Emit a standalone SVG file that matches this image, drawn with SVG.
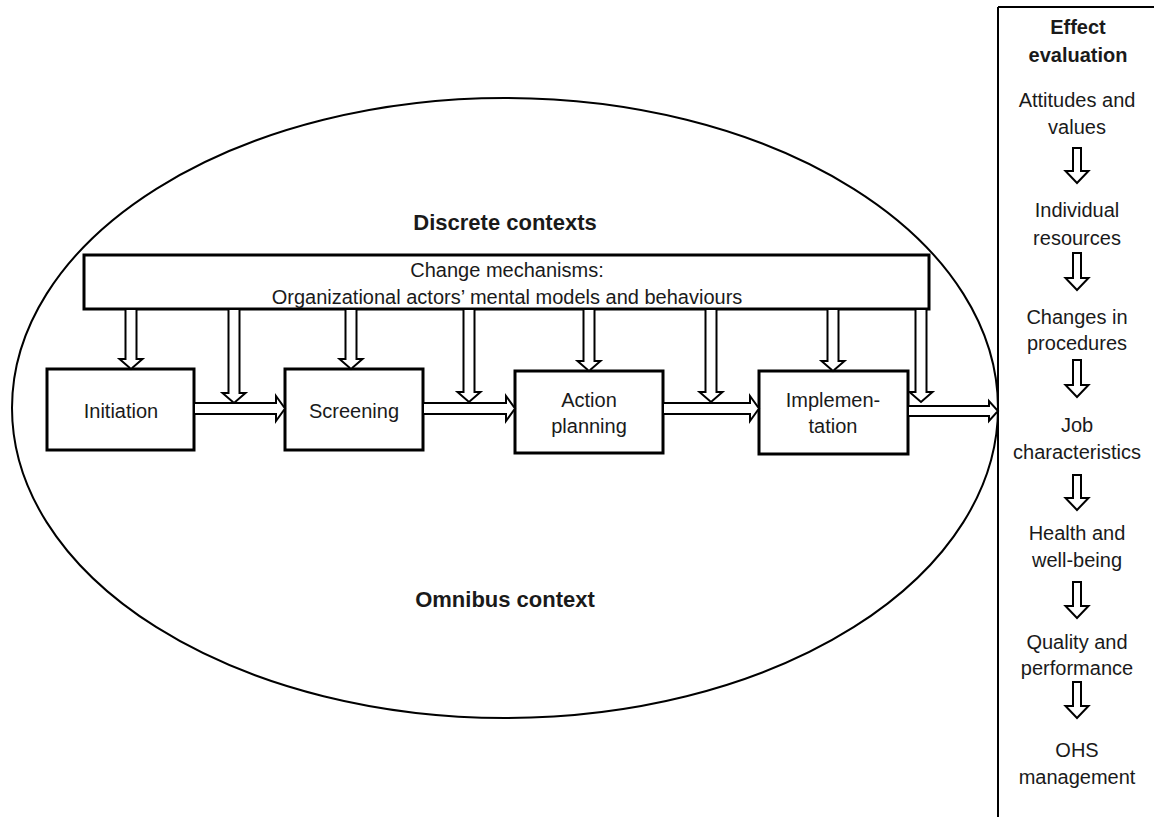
<svg xmlns="http://www.w3.org/2000/svg" width="1154" height="817" viewBox="0 0 1154 817">
<style>
text{font-family:"Liberation Sans",Arial,sans-serif;font-size:20px;fill:#1a1a1a;text-anchor:middle}
.b{font-weight:bold}
.t{font-size:22px}
.box{fill:#fff;stroke:#000;stroke-width:3}
.arr{fill:#fff;stroke:#000;stroke-width:2;stroke-linejoin:miter}
.ln{fill:none;stroke:#000;stroke-width:2}
</style>
<rect width="1154" height="817" fill="#fff"/>
<g id="omnibus">
<ellipse class="ln" cx="505" cy="408" rx="493" ry="310"/>
<text class="b t" x="505" y="230">Discrete contexts</text>
<text class="b t" x="505" y="607">Omnibus context</text>
</g>
<g id="change-mechanisms">
<rect class="box" x="84" y="255" width="845" height="54"/>
<text x="507" y="277">Change mechanisms:</text>
<text x="507" y="304">Organizational actors’ mental models and behaviours</text>
</g>
<g id="initiation">
<rect class="box" x="47" y="369" width="147" height="81"/>
<text x="121" y="418">Initiation</text>
</g>
<g id="screening">
<rect class="box" x="285" y="369" width="138" height="81"/>
<text x="354" y="418">Screening</text>
</g>
<g id="action-planning">
<rect class="box" x="515" y="371" width="148" height="82"/>
<text x="589" y="407">Action</text>
<text x="589" y="433">planning</text>
</g>
<g id="implementation">
<rect class="box" x="759" y="371" width="149" height="83"/>
<text x="833" y="407">Implemen-</text>
<text x="833" y="433">tation</text>
</g>
<g id="effect-evaluation">
<path class="ln" d="M998,7 H1154 M998,7 V817"/>
<text class="b" x="1078" y="34">Effect</text>
<text class="b" x="1078" y="62">evaluation</text>
<text x="1077" y="107">Attitudes and</text>
<text x="1077" y="134">values</text>
<text x="1077" y="217">Individual</text>
<text x="1077" y="245">resources</text>
<text x="1077" y="324">Changes in</text>
<text x="1077" y="350">procedures</text>
<text x="1077" y="432">Job</text>
<text x="1077" y="459">characteristics</text>
<text x="1077" y="540">Health and</text>
<text x="1077" y="567">well-being</text>
<text x="1077" y="649">Quality and</text>
<text x="1077" y="675">performance</text>
<text x="1077" y="757">OHS</text>
<text x="1077" y="784">management</text>
</g>
<g id="connectors">
<polygon class="arr" points="125.5,309 136.5,309 136.5,359 142.5,359 131,369 119.5,359 125.5,359"/>
<polygon class="arr" points="345.5,309 356.5,309 356.5,359 362.5,359 351,369 339.5,359 345.5,359"/>
<polygon class="arr" points="583.5,309 594.5,309 594.5,361 600.5,361 589,371 577.5,361 583.5,361"/>
<polygon class="arr" points="827.5,309 838.5,309 838.5,361 844.5,361 833,371 821.5,361 827.5,361"/>
<polygon class="arr" points="228.5,309 239.5,309 239.5,393 245.5,393 234,403 222.5,393 228.5,393"/>
<polygon class="arr" points="463.5,309 474.5,309 474.5,392 480.5,392 469,402 457.5,392 463.5,392"/>
<polygon class="arr" points="705.5,309 716.5,309 716.5,392 722.5,392 711,402 699.5,392 705.5,392"/>
<polygon class="arr" points="915.5,309 926.5,309 926.5,392 932.5,392 921,402 909.5,392 915.5,392"/>
<polygon class="arr" points="194,403 276,403 276,396 285,408.5 276,421 276,414 194,414"/>
<polygon class="arr" points="423,403 506,403 506,396 515,408.5 506,421 506,414 423,414"/>
<polygon class="arr" points="663,403 750,403 750,396 759,408.5 750,421 750,414 663,414"/>
<polygon class="arr" points="908,406 989,406 989,401 998,411 989,421 989,416 908,416"/>
<polygon class="arr" points="1073,148 1081,148 1081,171 1088.5,171 1077,183 1065.5,171 1073,171"/>
<polygon class="arr" points="1073,253 1081,253 1081,278 1088.5,278 1077,290 1065.5,278 1073,278"/>
<polygon class="arr" points="1073,360 1081,360 1081,385 1088.5,385 1077,397 1065.5,385 1073,385"/>
<polygon class="arr" points="1073,475 1081,475 1081,498 1088.5,498 1077,510 1065.5,498 1073,498"/>
<polygon class="arr" points="1073,582 1081,582 1081,606 1088.5,606 1077,618 1065.5,606 1073,606"/>
<polygon class="arr" points="1073,682 1081,682 1081,706 1088.5,706 1077,718 1065.5,706 1073,706"/>
</g>
</svg>
